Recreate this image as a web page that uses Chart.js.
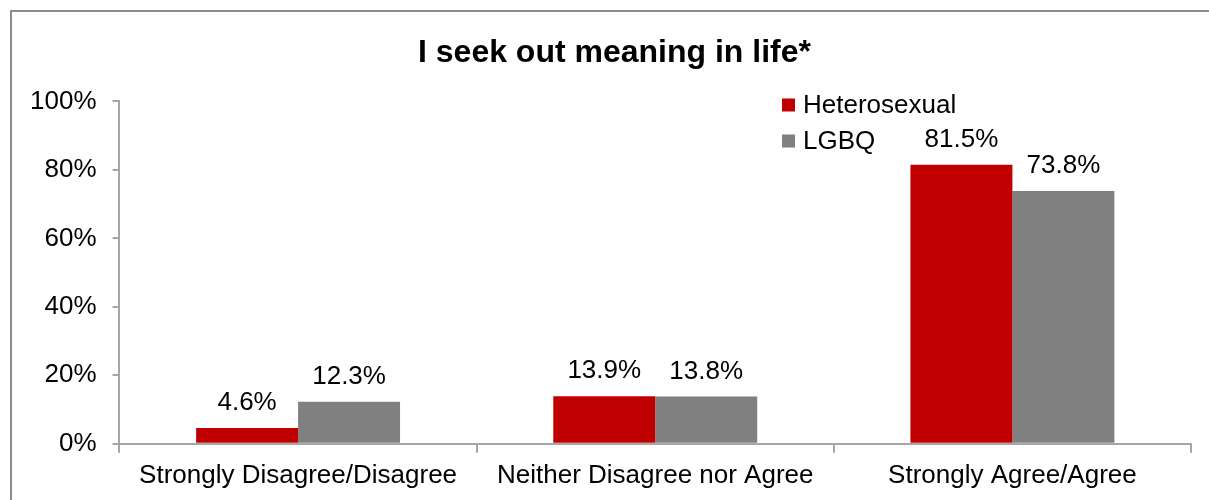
<!DOCTYPE html>
<html>
<head>
<meta charset="utf-8">
<script src="https://cdn.jsdelivr.net/npm/chart.js@4/dist/chart.umd.min.js"></script>
<style>
  body { margin: 0; background: #fff; }
  #wrap { width: 1209px; height: 500px; }
</style>
</head>
<body>
<div id="wrap"><canvas id="myChart" width="1209" height="500"></canvas></div>
<script>
// chart data
var categories = ['Strongly Disagree/Disagree', 'Neither Disagree nor Agree', 'Strongly Agree/Agree'];
var heterosexual = [4.6, 13.9, 81.5];
var lgbq = [12.3, 13.8, 73.8];
var seriesNames = ['Heterosexual', 'LGBQ'];
var seriesColors = ['#C00000', '#808080'];

var FONT = '"Liberation Sans", Arial, sans-serif';
Chart.defaults.font.family = FONT;
Chart.defaults.color = '#000';

// frame round the whole chart (runs off right and bottom like the original)
var framePlugin = {
  id: 'frame',
  afterLayout: function(chart) {
    // title in the original sits a bit right of the canvas centre
    if (chart.titleBlock) {
      chart.titleBlock.left += 12;
      chart.titleBlock.right += 12;
    }
  },
  beforeDraw: function(chart) {
    var c = chart.ctx;
    c.save();
    c.strokeStyle = '#8c8c8c';
    c.lineWidth = 2;
    c.strokeRect(11, 11, 1400, 700);
    c.restore();
  }
};

// value labels over each bar
var valueLabels = {
  id: 'valueLabels',
  afterDatasetsDraw: function(chart) {
    var c = chart.ctx;
    c.save();
    c.font = '26px ' + FONT;
    c.fillStyle = '#000';
    c.textAlign = 'center';
    c.textBaseline = 'alphabetic';
    chart.data.datasets.forEach(function(ds, i) {
      chart.getDatasetMeta(i).data.forEach(function(bar, j) {
        c.fillText(ds.data[j].toFixed(1) + '%', bar.x, bar.y - 18);
      });
    });
    c.restore();
  }
};

// legend sitting inside the plot, upper right
var innerLegend = {
  id: 'innerLegend',
  afterDraw: function(chart) {
    var c = chart.ctx;
    c.save();
    c.font = '26px ' + FONT;
    c.textBaseline = 'middle';
    c.textAlign = 'left';
    chart.data.datasets.forEach(function(ds, i) {
      var y = 105 + i * 36;
      c.fillStyle = ds.backgroundColor;
      c.fillRect(782, y - 6.5, 13, 13);
      c.fillStyle = '#000';
      c.fillText(ds.label, 803, y + 1);
    });
    c.restore();
  }
};

var ctx = document.getElementById('myChart').getContext('2d');
var myChart = new Chart(ctx, {
  type: 'bar',
  data: {
    labels: categories,
    datasets: [{
      label: seriesNames[0],
      data: heterosexual,
      backgroundColor: seriesColors[0]
    }, {
      label: seriesNames[1],
      data: lgbq,
      backgroundColor: seriesColors[1]
    }]
  },
  options: {
    responsive: false,
    animation: false,
    devicePixelRatio: 1,
    categoryPercentage: 0.571,
    barPercentage: 1,
    layout: { padding: { top: 10, left: 14, right: 18, bottom: 2 } },
    plugins: {
      legend: { display: false },
      tooltip: { enabled: false },
      title: {
        display: true,
        text: 'I seek out meaning in life*',
        color: '#000',
        font: { size: 32, weight: 'bold', family: FONT },
        padding: { top: 24, bottom: 29 }
      }
    },
    scales: {
      x: {
        grid: { drawOnChartArea: false, tickLength: 9, color: '#a6a6a6', lineWidth: 2 },
        border: { color: '#a6a6a6', width: 2 },
        ticks: { font: { size: 26 }, color: '#000', padding: 7, maxRotation: 0 }
      },
      y: {
        min: 0,
        max: 100,
        grid: { drawOnChartArea: false, tickLength: 7, color: '#a6a6a6', lineWidth: 2 },
        border: { color: '#a6a6a6', width: 2 },
        ticks: {
          stepSize: 20,
          font: { size: 26 },
          color: '#000',
          padding: 16,
          callback: function(v) { return v + '%'; }
        }
      }
    }
  },
  plugins: [framePlugin, valueLabels, innerLegend]
});
</script>
</body>
</html>
